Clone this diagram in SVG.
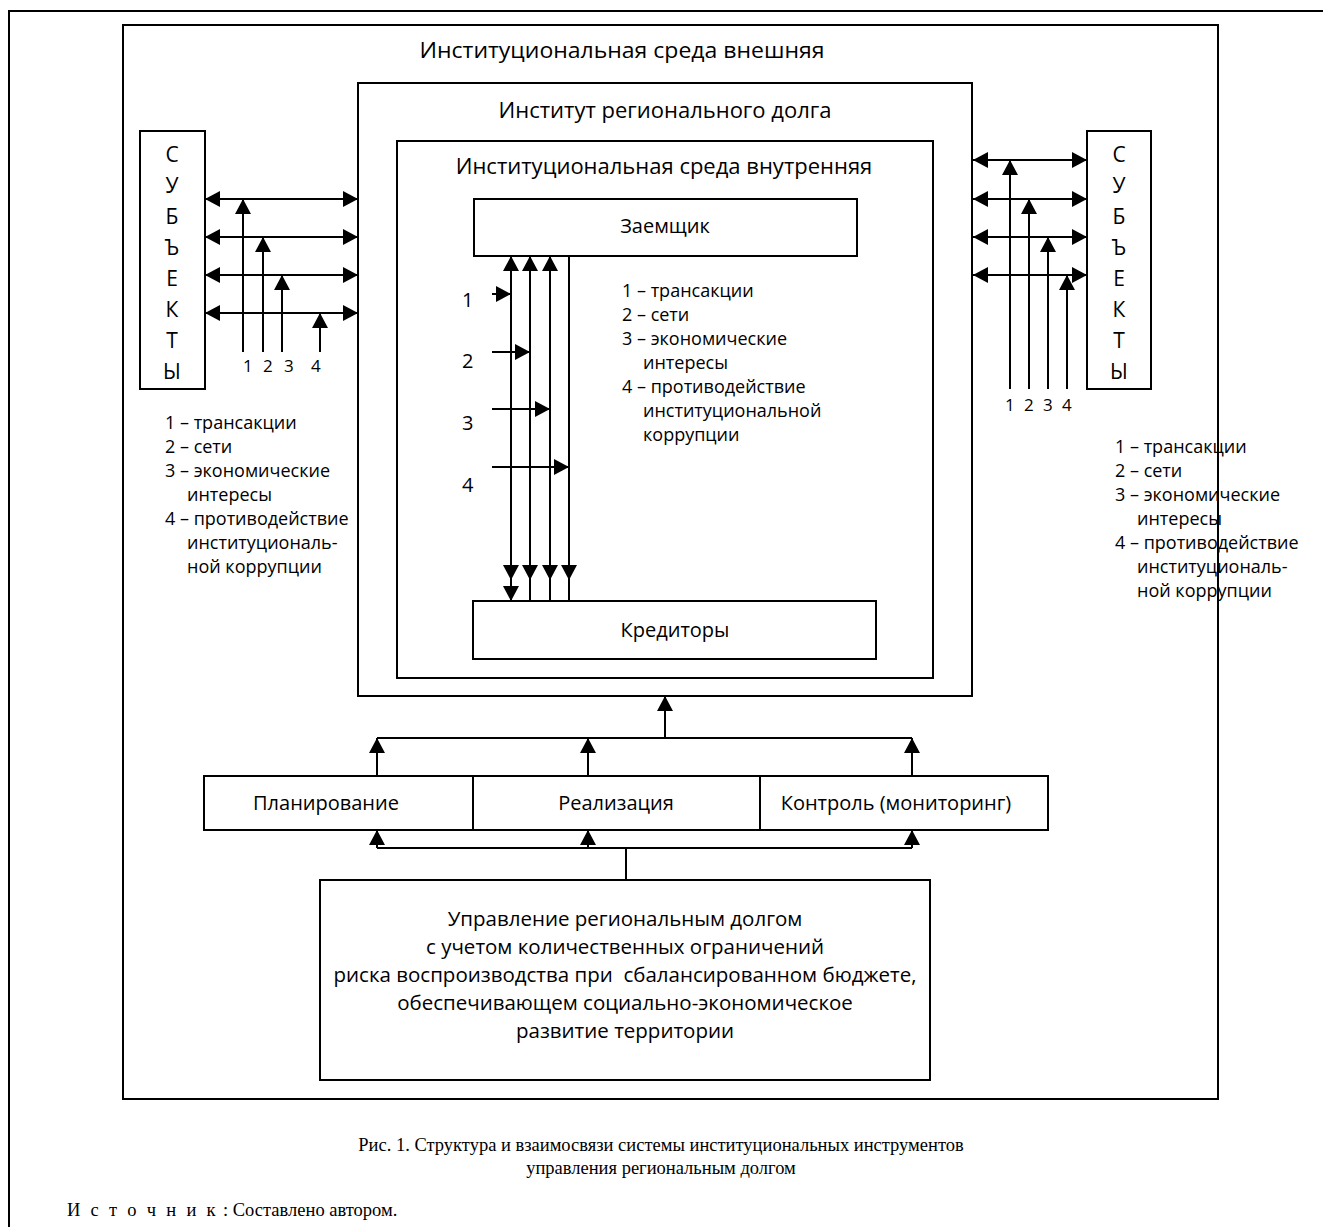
<svg xmlns="http://www.w3.org/2000/svg" width="1323" height="1227" viewBox="0 0 1323 1227">
  <style>
    .frame { fill: none; stroke: #000; stroke-width: 2; }
    .box { fill: #fff; stroke: #000; stroke-width: 2; }
    .ln { fill: none; stroke: #000; stroke-width: 2; }
    .t { font-family: "Open Sans", "Noto Sans", sans-serif; font-size: 20px; fill: #000; }
    .ttl { font-family: "Open Sans", "Noto Sans", sans-serif; font-size: 22px; fill: #000; text-anchor: middle; }
    .tc { text-anchor: middle; }
    .mg { font-size: 20.5px; }
    .lg { font-family: "Open Sans", "Noto Sans", sans-serif; font-size: 18px; fill: #000; }
    .num { font-family: "Open Sans", "Noto Sans", sans-serif; font-size: 17px; fill: #000; }
    .subj { font-family: "Open Sans", "Noto Sans", sans-serif; font-size: 21px; fill: #000; text-anchor: middle; }
    .cap { font-family: "Liberation Serif", "Times New Roman", serif; font-size: 18.5px; fill: #000; }
  </style>
  <defs>
    <marker id="ah" viewBox="0 0 15 16" refX="15" refY="8" markerWidth="15" markerHeight="16" markerUnits="userSpaceOnUse" orient="auto-start-reverse">
      <path d="M0,0 L15,8 L0,16 Z" fill="#000"/>
    </marker>
  </defs>

  <rect width="1323" height="1227" fill="#fff"/>

  <!-- page frame (open at right and bottom) -->
  <path class="frame" d="M1323,11 H9 V1227"/>

  <!-- external institutional environment -->
  <g id="env-external">
    <rect class="frame" x="123" y="25" width="1095" height="1074"/>
    <text class="ttl" x="622" y="58" textLength="405" lengthAdjust="spacingAndGlyphs">Институциональная среда внешняя</text>
  </g>

  <!-- institute of regional debt -->
  <g id="institute">
    <rect class="frame" x="358" y="83" width="614" height="613"/>
    <text class="ttl" x="665" y="118">Институт регионального долга</text>
  </g>

  <!-- internal institutional environment -->
  <g id="env-internal">
    <rect class="frame" x="397" y="141" width="536" height="537"/>
    <text class="ttl" x="664" y="174">Институциональная среда внутренняя</text>
  </g>

  <g id="borrower">
    <rect class="box" x="474" y="199" width="383" height="57"/>
    <text class="t tc" x="665" y="233">Заемщик</text>
  </g>

  <g id="creditors">
    <rect class="box" x="473" y="601" width="403" height="58"/>
    <text class="t tc" x="675" y="637">Кредиторы</text>
  </g>

  <g id="subjects-left">
    <rect class="box" x="140" y="131" width="65" height="258"/>
    <text class="subj" x="172" y="162">С</text>
    <text class="subj" x="172" y="193">У</text>
    <text class="subj" x="172" y="224">Б</text>
    <text class="subj" x="172" y="255">Ъ</text>
    <text class="subj" x="172" y="286">Е</text>
    <text class="subj" x="172" y="317">К</text>
    <text class="subj" x="172" y="348">Т</text>
    <text class="subj" x="172" y="379">Ы</text>
  </g>

  <g id="subjects-right">
    <rect class="box" x="1087" y="131" width="64" height="258"/>
    <text class="subj" x="1119" y="162">С</text>
    <text class="subj" x="1119" y="193">У</text>
    <text class="subj" x="1119" y="224">Б</text>
    <text class="subj" x="1119" y="255">Ъ</text>
    <text class="subj" x="1119" y="286">Е</text>
    <text class="subj" x="1119" y="317">К</text>
    <text class="subj" x="1119" y="348">Т</text>
    <text class="subj" x="1119" y="379">Ы</text>
  </g>

  <g id="stages">
    <rect class="box" x="204" y="776" width="844" height="54"/>
    <line class="ln" x1="473" y1="776" x2="473" y2="830"/>
    <line class="ln" x1="760" y1="776" x2="760" y2="830"/>
    <text class="t tc" x="326" y="810">Планирование</text>
    <text class="t tc" x="616" y="810">Реализация</text>
    <text class="t tc" x="896" y="810">Контроль (мониторинг)</text>
  </g>

  <g id="management">
    <rect class="box" x="320" y="880" width="610" height="200"/>
    <text class="t tc mg" x="625" y="926">Управление региональным долгом</text>
    <text class="t tc mg" x="625" y="954">с учетом количественных ограничений</text>
    <text class="t tc mg" x="625" y="982" xml:space="preserve">риска воспроизводства при  сбалансированном бюджете,</text>
    <text class="t tc mg" x="625" y="1010">обеспечивающем социально-экономическое</text>
    <text class="t tc mg" x="625" y="1038">развитие территории</text>
  </g>

  <g id="connectors">
    <!-- left subjects <-> institute -->
    <line class="ln" x1="205" y1="199" x2="358" y2="199" marker-start="url(#ah)" marker-end="url(#ah)"/>
    <line class="ln" x1="205" y1="237" x2="358" y2="237" marker-start="url(#ah)" marker-end="url(#ah)"/>
    <line class="ln" x1="205" y1="275" x2="358" y2="275" marker-start="url(#ah)" marker-end="url(#ah)"/>
    <line class="ln" x1="205" y1="313" x2="358" y2="313" marker-start="url(#ah)" marker-end="url(#ah)"/>
    <line class="ln" x1="243" y1="352" x2="243" y2="199" marker-end="url(#ah)"/>
    <line class="ln" x1="263" y1="352" x2="263" y2="237" marker-end="url(#ah)"/>
    <line class="ln" x1="282" y1="352" x2="282" y2="275" marker-end="url(#ah)"/>
    <line class="ln" x1="320" y1="352" x2="320" y2="313" marker-end="url(#ah)"/>

    <!-- right subjects <-> institute -->
    <line class="ln" x1="973" y1="160" x2="1087" y2="160" marker-start="url(#ah)" marker-end="url(#ah)"/>
    <line class="ln" x1="973" y1="199" x2="1087" y2="199" marker-start="url(#ah)" marker-end="url(#ah)"/>
    <line class="ln" x1="973" y1="237" x2="1087" y2="237" marker-start="url(#ah)" marker-end="url(#ah)"/>
    <line class="ln" x1="973" y1="275" x2="1087" y2="275" marker-start="url(#ah)" marker-end="url(#ah)"/>
    <line class="ln" x1="1010" y1="389" x2="1010" y2="160" marker-end="url(#ah)"/>
    <line class="ln" x1="1029" y1="389" x2="1029" y2="199" marker-end="url(#ah)"/>
    <line class="ln" x1="1048" y1="389" x2="1048" y2="237" marker-end="url(#ah)"/>
    <line class="ln" x1="1067" y1="389" x2="1067" y2="275" marker-end="url(#ah)"/>

    <!-- borrower <-> creditors -->
    <line class="ln" x1="511" y1="580" x2="511" y2="256" marker-start="url(#ah)" marker-end="url(#ah)"/>
    <line class="ln" x1="511" y1="580" x2="511" y2="601" marker-end="url(#ah)"/>
    <line class="ln" x1="530" y1="580" x2="530" y2="256" marker-start="url(#ah)" marker-end="url(#ah)"/>
    <line class="ln" x1="530" y1="580" x2="530" y2="601"/>
    <line class="ln" x1="550" y1="580" x2="550" y2="256" marker-start="url(#ah)" marker-end="url(#ah)"/>
    <line class="ln" x1="550" y1="580" x2="550" y2="601"/>
    <line class="ln" x1="569" y1="256" x2="569" y2="580" marker-end="url(#ah)"/>
    <line class="ln" x1="569" y1="580" x2="569" y2="601"/>
    <line class="ln" x1="492" y1="294" x2="511" y2="294" marker-end="url(#ah)"/>
    <line class="ln" x1="492" y1="352" x2="530" y2="352" marker-end="url(#ah)"/>
    <line class="ln" x1="492" y1="409" x2="550" y2="409" marker-end="url(#ah)"/>
    <line class="ln" x1="492" y1="467" x2="569" y2="467" marker-end="url(#ah)"/>

    <!-- stages -> institute -->
    <line class="ln" x1="665" y1="738" x2="665" y2="696" marker-end="url(#ah)"/>
    <line class="ln" x1="377" y1="738" x2="912" y2="738"/>
    <line class="ln" x1="377" y1="776" x2="377" y2="738" marker-end="url(#ah)"/>
    <line class="ln" x1="588" y1="776" x2="588" y2="738" marker-end="url(#ah)"/>
    <line class="ln" x1="912" y1="776" x2="912" y2="738" marker-end="url(#ah)"/>

    <!-- management -> stages -->
    <line class="ln" x1="626" y1="880" x2="626" y2="848"/>
    <line class="ln" x1="377" y1="848" x2="912" y2="848"/>
    <line class="ln" x1="377" y1="848" x2="377" y2="830" marker-end="url(#ah)"/>
    <line class="ln" x1="588" y1="848" x2="588" y2="830" marker-end="url(#ah)"/>
    <line class="ln" x1="912" y1="848" x2="912" y2="830" marker-end="url(#ah)"/>
  </g>

  <!-- arrow numbers -->
  <g id="numbers-left">
    <text class="num" x="243" y="372">1</text>
    <text class="num" x="263" y="372">2</text>
    <text class="num" x="284" y="372">3</text>
    <text class="num" x="311" y="372">4</text>
  </g>
  <g id="numbers-right">
    <text class="num" x="1005" y="411">1</text>
    <text class="num" x="1024" y="411">2</text>
    <text class="num" x="1043" y="411">3</text>
    <text class="num" x="1062" y="411">4</text>
  </g>
  <g id="numbers-inner">
    <text class="t" x="462" y="307">1</text>
    <text class="t" x="462" y="368">2</text>
    <text class="t" x="462" y="430">3</text>
    <text class="t" x="462" y="492">4</text>
  </g>

  <!-- legends -->
  <g id="legend-left">
    <text class="lg" x="165" y="429">1 – трансакции</text>
    <text class="lg" x="165" y="453">2 – сети</text>
    <text class="lg" x="165" y="477">3 – экономические</text>
    <text class="lg" x="187" y="501">интересы</text>
    <text class="lg" x="165" y="525">4 – противодействие</text>
    <text class="lg" x="187" y="549">институциональ-</text>
    <text class="lg" x="187" y="573">ной коррупции</text>
  </g>
  <g id="legend-inner">
    <text class="lg" x="622" y="297">1 – трансакции</text>
    <text class="lg" x="622" y="321">2 – сети</text>
    <text class="lg" x="622" y="345">3 – экономические</text>
    <text class="lg" x="643" y="369">интересы</text>
    <text class="lg" x="622" y="393">4 – противодействие</text>
    <text class="lg" x="643" y="417">институциональной</text>
    <text class="lg" x="643" y="441">коррупции</text>
  </g>
  <g id="legend-right">
    <text class="lg" x="1115" y="453">1 – трансакции</text>
    <text class="lg" x="1115" y="477">2 – сети</text>
    <text class="lg" x="1115" y="501">3 – экономические</text>
    <text class="lg" x="1137" y="525">интересы</text>
    <text class="lg" x="1115" y="549">4 – противодействие</text>
    <text class="lg" x="1137" y="573">институциональ-</text>
    <text class="lg" x="1137" y="597">ной коррупции</text>
  </g>

  <!-- figure caption and source -->
  <text class="cap tc" x="661" y="1151">Рис. 1. Структура и взаимосвязи системы институциональных инструментов</text>
  <text class="cap tc" x="661" y="1174">управления региональным долгом</text>
  <text class="cap" x="67" y="1216"><tspan letter-spacing="2.8">И с т о ч н и к</tspan> : Составлено автором.</text>
</svg>
